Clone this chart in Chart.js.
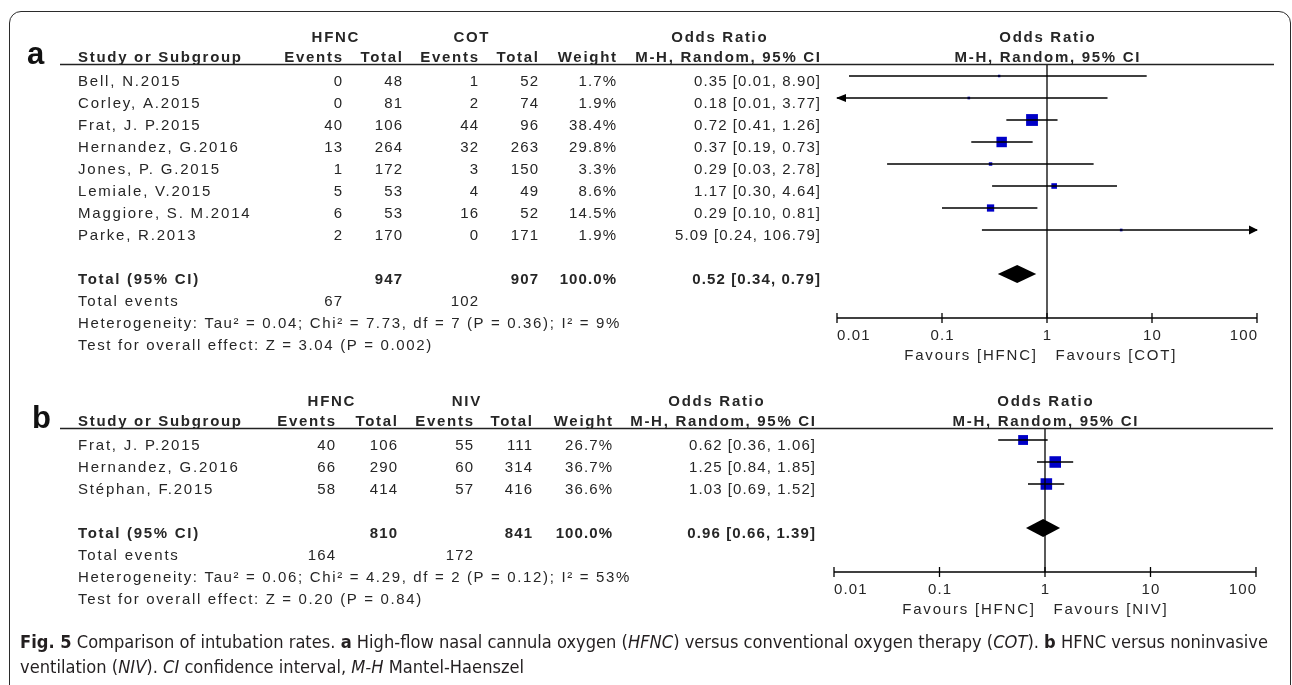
<!DOCTYPE html>
<html>
<head>
<meta charset="utf-8">
<script src="https://cdn.jsdelivr.net/npm/chart.js@4.4.0/dist/chart.umd.min.js"></script>
<style>
html, body { margin: 0; padding: 0; background: #fff; }
body { width: 1292px; height: 685px; position: relative; overflow: hidden; }
#frame { position: absolute; left: 9px; top: 11px; width: 1282px; height: 740px; border: 1.6px solid #2b2b2b; border-radius: 12px; box-sizing: border-box; }
.panel { position: absolute; left: 0; }
#caption { position: absolute; left: 20px; top: 630px; font-family: "Liberation Sans Narrow", "DejaVu Sans Condensed", sans-serif; font-size: 17px; line-height: 25px; color: #231f20; white-space: nowrap; }
#caption div { transform-origin: 0 50%; width: max-content; }
</style>
</head>
<body>
<div id="frame"></div>
<canvas id="chartA" class="panel" width="1292" height="375" style="top:0"></canvas>
<canvas id="chartB" class="panel" width="1292" height="310" style="top:375px"></canvas>
<div id="caption">
  <div id="cap1"><b>Fig. 5</b> Comparison of intubation rates. <b>a</b> High-flow nasal cannula oxygen (<i>HFNC</i>) versus conventional oxygen therapy (<i>COT</i>). <b>b</b> HFNC versus noninvasive</div>
  <div id="cap2">ventilation (<i>NIV</i>). <i>CI</i> confidence interval, <i>M-H</i> Mantel-Haenszel</div>
</div>
<script>
// panel a: HFNC vs COT
var studiesA = ['Bell, N.2015', 'Corley, A.2015', 'Frat, J. P.2015', 'Hernandez, G.2016', 'Jones, P. G.2015', 'Lemiale, V.2015', 'Maggiore, S. M.2014', 'Parke, R.2013'];
var hfncEventsA = [0, 0, 40, 13, 1, 5, 6, 2];
var hfncTotalA = [48, 81, 106, 264, 172, 53, 53, 170];
var cotEventsA = [1, 2, 44, 32, 3, 4, 16, 0];
var cotTotalA = [52, 74, 96, 263, 150, 49, 52, 171];
var weightA = [1.7, 1.9, 38.4, 29.8, 3.3, 8.6, 14.5, 1.9];
var orA = [0.35, 0.18, 0.72, 0.37, 0.29, 1.17, 0.29, 5.09];
var loA = [0.013, 0.008, 0.41, 0.19, 0.03, 0.30, 0.10, 0.24];
var hiA = [8.90, 3.77, 1.26, 0.73, 2.78, 4.64, 0.81, 106.79];
var pooledA = [0.52, 0.34, 0.79];
var hetA = 'Heterogeneity: Tau\u00b2 = 0.04; Chi\u00b2 = 7.73, df = 7 (P = 0.36); I\u00b2 = 9%';
var testA = 'Test for overall effect: Z = 3.04 (P = 0.002)';

// panel b: HFNC vs NIV
var studiesB = ['Frat, J. P.2015', 'Hernandez, G.2016', 'St\u00e9phan, F.2015'];
var hfncEventsB = [40, 66, 58];
var hfncTotalB = [106, 290, 414];
var nivEventsB = [55, 60, 57];
var nivTotalB = [111, 314, 416];
var weightB = [26.7, 36.7, 36.6];
var orB = [0.62, 1.25, 1.03];
var loB = [0.36, 0.84, 0.69];
var hiB = [1.06, 1.85, 1.52];
var pooledB = [0.96, 0.66, 1.39];
var hetB = 'Heterogeneity: Tau\u00b2 = 0.06; Chi\u00b2 = 4.29, df = 2 (P = 0.12); I\u00b2 = 53%';
var testB = 'Test for overall effect: Z = 0.20 (P = 0.84)';

var tickValues = [0.01, 0.1, 1, 10, 100];
var tickLabels = ['0.01', '0.1', '1', '10', '100'];
var X_MIN = 0.01, X_MAX = 100;

var FONT = '"Liberation Sans", Arial, sans-serif';
var LS_T = 1.8, LS_B = 1.7, LS_N = 1.1, LS_H = 1.65;

function sum(a) { return a.reduce(function (s, v) { return s + v; }, 0); }
function ciText(o, l, h) { return o.toFixed(2) + ' [' + l.toFixed(2) + ', ' + h.toFixed(2) + ']'; }

function txt(ctx, s, x, y, align, bold, ls) {
    ctx.font = (bold ? 'bold ' : '') + '15px ' + FONT;
    ctx.letterSpacing = ls + 'px';
    ctx.textAlign = align;
    ctx.textBaseline = 'alphabetic';
    ctx.fillStyle = '#262626';
    var dx = align === 'right' ? ls : (align === 'center' ? ls / 2 : 0);
    ctx.fillText(s, x + dx, y);
}

function forestPanel(id, p) {
    var ciSets = p.names.map(function (nm, i) {
        return {
            data: [{x: Math.max(p.lo[i], X_MIN), y: i}, {x: Math.min(p.hi[i], X_MAX), y: i}],
            showLine: true, borderColor: '#000', borderWidth: 1.3,
            pointRadius: 0, clip: false
        };
    });
    var markers = {
        data: p.or.map(function (v, i) { return {x: v, y: i}; }),
        pointStyle: 'rect',
        pointRadius: p.weight.map(function (w) { return 1.35 * Math.sqrt(w); }),
        backgroundColor: '#0000c8', borderWidth: 0, clip: false
    };

    var plugin = {
        id: 'forest' + id,
        afterDatasetsDraw: function (chart) {
            var ctx = chart.ctx, xs = chart.scales.x, ys = chart.scales.y;
            var x1 = xs.getPixelForValue(1);
            var axisY = ys.bottom;
            ctx.save();
            ctx.strokeStyle = '#000';
            ctx.fillStyle = '#000';

            // line of no effect
            ctx.lineWidth = 1.3;
            ctx.beginPath(); ctx.moveTo(x1, ys.top); ctx.lineTo(x1, axisY); ctx.stroke();

            // arrows for CIs past the axis
            p.names.forEach(function (nm, i) {
                var y = ys.getPixelForValue(i);
                if (p.lo[i] < X_MIN) {
                    var xl = xs.getPixelForValue(X_MIN);
                    ctx.beginPath(); ctx.moveTo(xl - 1, y); ctx.lineTo(xl + 9, y - 4); ctx.lineTo(xl + 9, y + 4); ctx.closePath(); ctx.fill();
                }
                if (p.hi[i] > X_MAX) {
                    var xr = xs.getPixelForValue(X_MAX);
                    ctx.beginPath(); ctx.moveTo(xr + 1, y); ctx.lineTo(xr - 8, y - 4.5); ctx.lineTo(xr - 8, y + 4.5); ctx.closePath(); ctx.fill();
                }
            });

            // pooled diamond
            var dy = ys.getPixelForValue(p.totRow);
            ctx.beginPath();
            ctx.moveTo(xs.getPixelForValue(p.pooled[1]), dy);
            ctx.lineTo(xs.getPixelForValue(p.pooled[0]), dy - 9);
            ctx.lineTo(xs.getPixelForValue(p.pooled[2]), dy);
            ctx.lineTo(xs.getPixelForValue(p.pooled[0]), dy + 9);
            ctx.closePath(); ctx.fill();

            // axis
            ctx.lineWidth = 1.3;
            ctx.beginPath(); ctx.moveTo(xs.left, axisY); ctx.lineTo(xs.right, axisY); ctx.stroke();
            tickValues.forEach(function (v, k) {
                var tx = xs.getPixelForValue(v);
                ctx.beginPath(); ctx.moveTo(tx, axisY - 5); ctx.lineTo(tx, axisY + 5); ctx.stroke();
                var al = k === 0 ? 'left' : (k === tickValues.length - 1 ? 'right' : 'center');
                txt(ctx, tickLabels[k], tx, axisY + 21.5, al, false, LS_N);
            });
            txt(ctx, 'Favours [HFNC]', x1 - 11, axisY + 41.5, 'right', false, LS_T);
            txt(ctx, p.favR, x1 + 8.5, axisY + 41.5, 'left', false, LS_T);

            // header rule
            ctx.lineWidth = 1.5;
            ctx.strokeStyle = '#222';
            ctx.beginPath(); ctx.moveTo(60, ys.top - 0.5); ctx.lineTo(p.ruleEnd, ys.top - 0.5); ctx.stroke();

            // panel letter
            ctx.font = 'bold 31px ' + FONT;
            ctx.letterSpacing = '0px';
            ctx.textAlign = 'left';
            ctx.fillStyle = '#111';
            ctx.fillText(p.letter, p.letterX, ys.getPixelForValue(0) - 12);

            // table
            var c = p.cols;
            var r0 = ys.getPixelForValue(0);
            var base = function (i) { return ys.getPixelForValue(i) + 10; };
            txt(ctx, 'HFNC', c.g1, r0 - 34, 'center', true, LS_B);
            txt(ctx, p.ctrl, c.g2, r0 - 34, 'center', true, LS_B);
            txt(ctx, 'Odds Ratio', c.g3, r0 - 34, 'center', true, LS_B);
            txt(ctx, 'Odds Ratio', x1, r0 - 34, 'center', true, LS_B);
            txt(ctx, 'Study or Subgroup', 78, r0 - 14, 'left', true, LS_B);
            txt(ctx, 'Events', c.ev1, r0 - 14, 'right', true, LS_B);
            txt(ctx, 'Total', c.tot1, r0 - 14, 'right', true, LS_B);
            txt(ctx, 'Events', c.ev2, r0 - 14, 'right', true, LS_B);
            txt(ctx, 'Total', c.tot2, r0 - 14, 'right', true, LS_B);
            txt(ctx, 'Weight', c.wt, r0 - 14, 'right', true, LS_B);
            txt(ctx, 'M-H, Random, 95% CI', c.ci, r0 - 14, 'right', true, LS_B);
            txt(ctx, 'M-H, Random, 95% CI', x1, r0 - 14, 'center', true, LS_B);

            p.names.forEach(function (nm, i) {
                var y = base(i);
                txt(ctx, nm, 78, y, 'left', false, LS_T);
                txt(ctx, String(p.ev1[i]), c.ev1, y, 'right', false, LS_N);
                txt(ctx, String(p.tot1[i]), c.tot1, y, 'right', false, LS_N);
                txt(ctx, String(p.ev2[i]), c.ev2, y, 'right', false, LS_N);
                txt(ctx, String(p.tot2[i]), c.tot2, y, 'right', false, LS_N);
                txt(ctx, p.weight[i].toFixed(1) + '%', c.wt, y, 'right', false, LS_N);
                txt(ctx, ciText(p.or[i], p.lo[i], p.hi[i]), c.ci, y, 'right', false, LS_N);
            });

            var t = p.totRow;
            txt(ctx, 'Total (95% CI)', 78, base(t), 'left', true, LS_B);
            txt(ctx, String(sum(p.tot1)), c.tot1, base(t), 'right', true, LS_N);
            txt(ctx, String(sum(p.tot2)), c.tot2, base(t), 'right', true, LS_N);
            txt(ctx, '100.0%', c.wt, base(t), 'right', true, LS_N);
            txt(ctx, ciText(p.pooled[0], p.pooled[1], p.pooled[2]), c.ci, base(t), 'right', true, LS_N);
            txt(ctx, 'Total events', 78, base(t + 1), 'left', false, LS_T);
            txt(ctx, String(sum(p.ev1)), c.ev1, base(t + 1), 'right', false, LS_N);
            txt(ctx, String(sum(p.ev2)), c.ev2, base(t + 1), 'right', false, LS_N);
            txt(ctx, p.het, 78, base(t + 2), 'left', false, LS_H);
            txt(ctx, p.test, 78, base(t + 3), 'left', false, LS_H);
            ctx.restore();
        }
    };

    return new Chart(document.getElementById(id), {
        type: 'scatter',
        data: {datasets: ciSets.concat([markers])},
        options: {
            responsive: false,
            animation: false,
            events: [],
            layout: {padding: p.pad},
            plugins: {legend: {display: false}, tooltip: {enabled: false}},
            scales: {
                x: {type: 'logarithmic', min: X_MIN, max: X_MAX, display: false},
                y: {type: 'linear', reverse: true, min: -0.5, max: p.axisRow, display: false}
            }
        },
        plugins: [plugin]
    });
}

forestPanel('chartA', {
    names: studiesA, ev1: hfncEventsA, tot1: hfncTotalA, ev2: cotEventsA, tot2: cotTotalA,
    weight: weightA, or: orA, lo: loA, hi: hiA, pooled: pooledA, het: hetA, test: testA,
    ctrl: 'COT', favR: 'Favours [COT]', letter: 'a', letterX: 27,
    totRow: 9, axisRow: 11, ruleEnd: 1274,
    pad: {left: 837, right: 35, top: 65, bottom: 57},
    cols: {g1: 335, g2: 471, g3: 719, ev1: 342, tot1: 402, ev2: 478, tot2: 538, wt: 616, ci: 820}
});

forestPanel('chartB', {
    names: studiesB, ev1: hfncEventsB, tot1: hfncTotalB, ev2: nivEventsB, tot2: nivTotalB,
    weight: weightB, or: orB, lo: loB, hi: hiB, pooled: pooledB, het: hetB, test: testB,
    ctrl: 'NIV', favR: 'Favours [NIV]', letter: 'b', letterX: 32,
    totRow: 4, axisRow: 6, ruleEnd: 1273,
    pad: {left: 834, right: 36, top: 54, bottom: 113},
    cols: {g1: 331, g2: 466, g3: 716, ev1: 335, tot1: 397, ev2: 473, tot2: 532, wt: 612, ci: 815}
});

// fit caption to the printed width
var cap1 = document.getElementById('cap1'), cap2 = document.getElementById('cap2');
var s = 1248 / cap1.getBoundingClientRect().width;
cap1.style.transform = 'scaleX(' + s + ')';
cap2.style.transform = 'scaleX(' + s + ')';
</script>
</body>
</html>
